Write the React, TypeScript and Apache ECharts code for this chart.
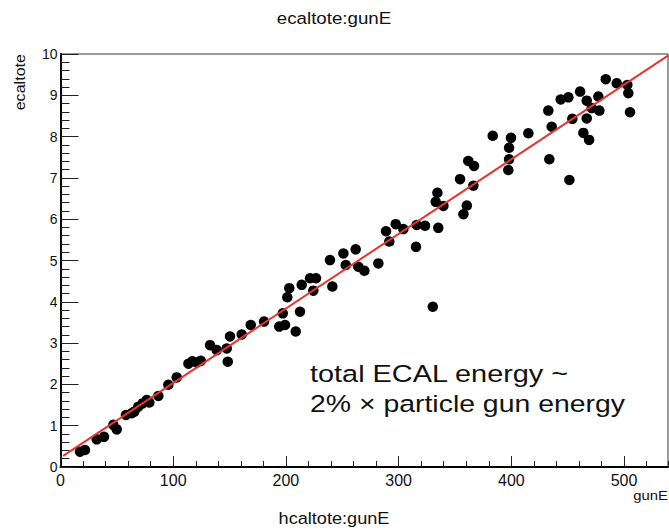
import { useEffect, useRef } from "react";
import * as echarts from "echarts";

// Particle gun energy (x) and total ECAL energy (y) per event
const gunE = [
  17.3, 21.7, 32.1, 38.6, 46.9, 49.9, 58.1, 63.2, 65.5, 69.0,
  72.9, 76.5, 78.8, 86.8, 95.7, 103.1, 113.5, 117.0, 121.0, 124.5,
  132.7, 138.6, 147.5, 148.4, 150.4, 160.8, 168.8, 180.6, 194.1, 197.2,
  199.2, 201.2, 203.0, 208.7, 212.5, 214.0, 221.4, 224.3, 226.7, 239.1,
  241.2, 251.0, 253.1, 261.9, 264.2, 269.6, 282.0, 288.8, 291.7, 297.4,
  304.2, 315.4, 316.0, 323.4, 330.3, 332.9, 334.4, 335.2, 339.7, 357.5,
  360.5, 354.5, 361.8, 366.9, 366.3, 383.5, 397.3, 398.0, 398.0, 399.7,
  415.1, 432.8, 433.7, 435.8, 443.8, 450.6, 451.5, 454.1, 461.0, 463.9,
  466.9, 466.9, 469.0, 471.3, 477.2, 478.1, 483.8, 493.5, 502.9, 503.8,
  505.3,
];
const ecaltote = [
  0.37, 0.41, 0.67, 0.73, 1.02, 0.91, 1.26, 1.30, 1.34, 1.46,
  1.54, 1.62, 1.56, 1.72, 1.99, 2.17, 2.50, 2.56, 2.53, 2.57,
  2.95, 2.83, 2.87, 2.55, 3.16, 3.21, 3.44, 3.52, 3.40, 3.72,
  3.44, 4.11, 4.33, 3.28, 3.76, 4.41, 4.57, 4.27, 4.57, 5.01,
  4.37, 5.17, 4.89, 5.27, 4.85, 4.75, 4.93, 5.71, 5.46, 5.88,
  5.76, 5.33, 5.86, 5.84, 3.88, 6.42, 6.64, 5.79, 6.32, 6.12,
  6.33, 6.97, 7.41, 7.29, 6.81, 8.02, 7.19, 7.45, 7.73, 7.97,
  8.08, 8.63, 7.45, 8.24, 8.90, 8.95, 6.95, 8.43, 9.09, 8.09,
  8.87, 8.44, 7.92, 8.69, 8.97, 8.63, 9.39, 9.29, 9.25, 9.05,
  8.59,
];

// Linear fit endpoints
const fitGunE = [2.4, 539];
const fitEcaltote = [0.27, 9.96];

const X_MAX = 539;
const Y_MAX = 10;

const FONT = "'Liberation Sans', Arial, Helvetica, sans-serif";

export default function App() {
  const ref = useRef<HTMLDivElement>(null);

  useEffect(() => {
    const chart = echarts.init(ref.current!, null, { renderer: "svg" });
    const tickStyle = { color: "#222", width: 1 };

    chart.setOption({
      animation: false,
      backgroundColor: "#fff",
      grid: {
        left: 60.5,
        top: 54,
        width: 607.5,
        height: 413,
        show: true,
        borderColor: "#333",
        borderWidth: 1,
        backgroundColor: "transparent",
      },
      xAxis: [
        {
          type: "value",
          min: 0,
          max: X_MAX,
          interval: 100,
          position: "bottom",
          axisLine: { show: true, onZero: false, lineStyle: { color: "#000", width: 2 } },
          axisTick: { show: true, inside: true, length: 11, lineStyle: tickStyle },
          axisLabel: {
            show: true,
            margin: 5,
            fontSize: 16,
            fontFamily: FONT,
            color: "#111",
            showMaxLabel: false,
          },
          splitLine: { show: false },
        },
        {
          type: "value",
          min: 0,
          max: X_MAX,
          interval: 20,
          position: "bottom",
          axisLine: { show: false },
          axisTick: { show: true, inside: true, length: 6, lineStyle: tickStyle },
          axisLabel: { show: false },
          splitLine: { show: false },
        },
      ],
      yAxis: {
        type: "value",
        min: 0,
        max: Y_MAX,
        interval: 1,
        axisLine: { show: true, onZero: false, lineStyle: { color: "#000", width: 2 } },
        axisTick: { show: true, inside: true, length: 18, lineStyle: tickStyle },
        minorTick: { show: true, splitNumber: 5, length: 9, lineStyle: tickStyle },
        axisLabel: { margin: 3, fontSize: 14, fontFamily: FONT, color: "#111" },
        splitLine: { show: false },
        minorSplitLine: { show: false },
      },
      series: [
        {
          type: "scatter",
          xAxisIndex: 0,
          data: gunE.map((x, i) => [x, ecaltote[i]]),
          symbol: "circle",
          symbolSize: 10.5,
          itemStyle: { color: "#000", opacity: 1 },
          z: 2,
        },
        {
          type: "line",
          xAxisIndex: 0,
          data: fitGunE.map((x, i) => [x, fitEcaltote[i]]),
          symbol: "none",
          showSymbol: false,
          lineStyle: { color: "#e8342e", width: 2 },
          z: 3,
        },
      ],
      graphic: [
        {
          type: "text",
          x: 334,
          y: 18,
          scaleX: 1.1,
          style: {
            text: "ecaltote:gunE",
            fontSize: 17,
            fontFamily: FONT,
            fill: "#111",
            align: "center",
            verticalAlign: "middle",
          },
        },
        {
          type: "text",
          x: 334,
          y: 518,
          scaleX: 1.1,
          style: {
            text: "hcaltote:gunE",
            fontSize: 16.5,
            fontFamily: FONT,
            fill: "#111",
            align: "center",
            verticalAlign: "middle",
          },
        },
        {
          type: "text",
          x: 20,
          y: 54,
          rotation: Math.PI / 2,
          scaleX: 1.15,
          style: {
            text: "ecaltote",
            fontSize: 14,
            fontFamily: FONT,
            fill: "#111",
            align: "right",
            verticalAlign: "middle",
          },
        },
        {
          type: "text",
          x: 668,
          y: 495,
          scaleX: 1.1,
          style: {
            text: "gunE",
            fontSize: 13.5,
            fontFamily: FONT,
            fill: "#111",
            align: "right",
            verticalAlign: "middle",
          },
        },
        {
          type: "text",
          x: 310,
          y: 374,
          scaleX: 1.24,
          style: {
            text: "total ECAL energy ~",
            fontSize: 23.3,
            fontFamily: FONT,
            fill: "#111",
            align: "left",
            verticalAlign: "middle",
          },
        },
        {
          type: "text",
          x: 310,
          y: 403.5,
          scaleX: 1.22,
          style: {
            text: "2% × particle gun energy",
            fontSize: 23.3,
            fontFamily: FONT,
            fill: "#111",
            align: "left",
            verticalAlign: "middle",
          },
        },
      ],
    });

    return () => chart.dispose();
  }, []);

  return (
    <div
      ref={ref}
      style={{ position: "absolute", left: 0, top: 0, width: 669, height: 531 }}
    />
  );
}
